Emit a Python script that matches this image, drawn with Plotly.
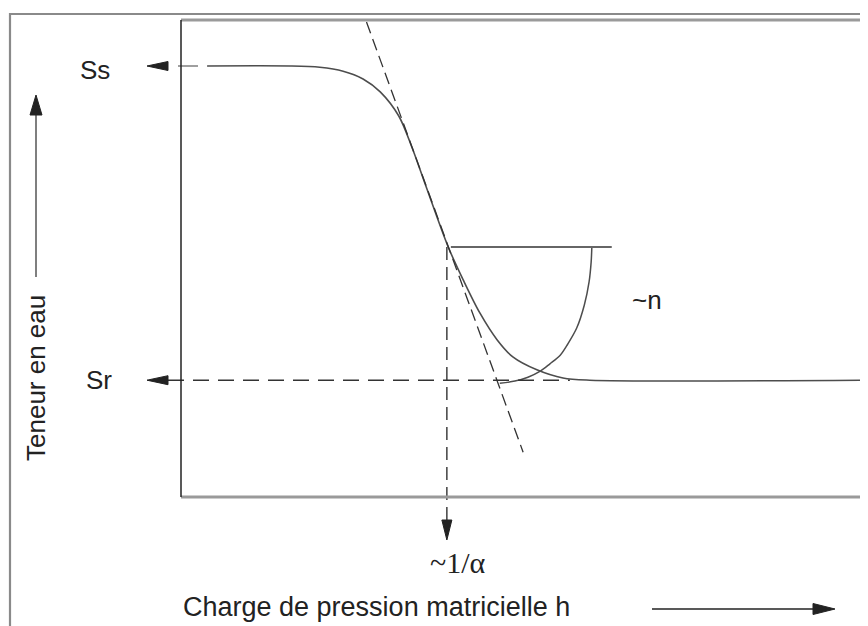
import plotly.graph_objects as go

# ---------------- data ----------------
# water-retention curve (h = pressure head, theta = water content), schematic units
h_curve = [0.38, 1.59, 2.02, 2.36, 2.65, 2.90, 3.17, 3.36, 3.55, 3.89, 4.11, 4.35,
           4.60, 4.83, 5.18, 5.56, 5.95, 9.91]
theta_curve = [1.000, 1.000, 0.997, 0.988, 0.970, 0.940, 0.884, 0.812, 0.728, 0.580,
               0.503, 0.427, 0.365, 0.325, 0.295, 0.276, 0.271, 0.271]

# "~n" shape curve
h_n = [5.98, 5.97, 5.94, 5.87, 5.76, 5.63, 5.52, 5.37, 5.23, 5.05, 4.86, 4.64]
theta_n = [0.580, 0.545, 0.499, 0.445, 0.392, 0.355, 0.329, 0.309, 0.292, 0.278,
           0.269, 0.264]

# tangent at the inflection point
tangent_h = [2.70, 4.98]
tangent_theta = [1.102, 0.104]

theta_s = 1.0      # Ss
theta_r = 0.271    # Sr
h_alpha = 3.87     # ~1/alpha
theta_alpha = 0.580
h_n_bar_end = 6.27
h_sr_dash_end = 5.66

label_ss = "Ss"
label_sr = "Sr"
label_n = "~n"
label_alpha = "~1/α"
label_x = "Charge de pression matricielle h"
label_y = "Teneur en eau"

# ---------------- scale of the canvas ----------------
W, H = 868, 626
PAGE_OFFSET = 8          # default body margin of the html page
PX_PER_H = 68.7
PX_PER_T = 431.0
LEFT_PX, BOTTOM_PX = 181, 497
H_MIN = (PAGE_OFFSET - LEFT_PX) / PX_PER_H
H_MAX = (W + PAGE_OFFSET - LEFT_PX) / PX_PER_H
T_MIN = (BOTTOM_PX - H - PAGE_OFFSET) / PX_PER_T
T_MAX = (BOTTOM_PX - PAGE_OFFSET) / PX_PER_T
T_TOP = (BOTTOM_PX - 20) / PX_PER_T  # top of inner frame


def hx(px):
    """page pixel column -> h"""
    return (px - LEFT_PX) / PX_PER_H


def ty(py):
    """page pixel row -> theta"""
    return (BOTTOM_PX - py) / PX_PER_T


def dh(px):
    return px / PX_PER_H


def dt(px):
    return px / PX_PER_T


def arrowhead(tip_h, tip_t, direction, length=21, width=10):
    if direction == "left":
        xs = [tip_h, tip_h + dh(length), tip_h + dh(length), tip_h]
        ys = [tip_t, tip_t + dt(width / 2), tip_t - dt(width / 2), tip_t]
    elif direction == "right":
        xs = [tip_h, tip_h - dh(length), tip_h - dh(length), tip_h]
        ys = [tip_t, tip_t + dt(width / 2), tip_t - dt(width / 2), tip_t]
    elif direction == "up":
        xs = [tip_h, tip_h - dh(width / 2), tip_h + dh(width / 2), tip_h]
        ys = [tip_t, tip_t - dt(length), tip_t - dt(length), tip_t]
    else:
        xs = [tip_h, tip_h - dh(width / 2), tip_h + dh(width / 2), tip_h]
        ys = [tip_t, tip_t + dt(length), tip_t + dt(length), tip_t]
    return go.Scatter(x=xs, y=ys, mode="lines", fill="toself", fillcolor="#222",
                      line=dict(color="#222", width=1), hoverinfo="skip")


CURVE = "#4d4d4d"
DASH = "#333333"

fig = go.Figure()

# main curve
fig.add_trace(go.Scatter(x=h_curve, y=theta_curve, mode="lines",
                         line=dict(color=CURVE, width=1.6, shape="spline", smoothing=0.9)))
# ~n curve
fig.add_trace(go.Scatter(x=h_n, y=theta_n, mode="lines",
                         line=dict(color=CURVE, width=1.5, shape="spline", smoothing=0.9)))
# horizontal bar at the inflection point
fig.add_trace(go.Scatter(x=[h_alpha + dh(4), h_n_bar_end], y=[theta_alpha, theta_alpha],
                         mode="lines", line=dict(color="#666", width=2)))
# tangent
fig.add_trace(go.Scatter(x=tangent_h, y=tangent_theta, mode="lines",
                         line=dict(color=DASH, width=1.3, dash="12px,6px")))

# arrow tips
arrow_tip_left = hx(147)
v_tip = ty(540)

# vertical dashed line to ~1/alpha
fig.add_trace(go.Scatter(x=[h_alpha, h_alpha], y=[theta_alpha, v_tip + dt(20)], mode="lines",
                         line=dict(color=DASH, width=1.4, dash="13px,7px")))
fig.add_trace(arrowhead(h_alpha, v_tip, "down", 20, 10))

# Sr dashed
fig.add_trace(go.Scatter(x=[arrow_tip_left + dh(21), h_sr_dash_end], y=[theta_r, theta_r],
                         mode="lines", line=dict(color=DASH, width=1.6, dash="16px,9px")))
fig.add_trace(arrowhead(arrow_tip_left, theta_r, "left", 21, 9))

# Ss short dash
fig.add_trace(go.Scatter(x=[hx(178), hx(198)], y=[theta_s, theta_s], mode="lines",
                         line=dict(color="#888", width=1.6)))
fig.add_trace(arrowhead(arrow_tip_left, theta_s, "left", 21, 9))

# y axis arrow
y_arrow_h = hx(36)
y_tip = ty(95)
fig.add_trace(go.Scatter(x=[y_arrow_h, y_arrow_h], y=[ty(277), y_tip - dt(18)],
                         mode="lines", line=dict(color="#555", width=1.5)))
fig.add_trace(arrowhead(y_arrow_h, y_tip, "up", 20, 12))

# x axis arrow
x_arrow_t = ty(609)
x_tip = hx(835)
fig.add_trace(go.Scatter(x=[hx(652), x_tip - dh(18)], y=[x_arrow_t, x_arrow_t],
                         mode="lines", line=dict(color="#222", width=1.6)))
fig.add_trace(arrowhead(x_tip, x_arrow_t, "right", 22, 11))

# frames
shapes = [
    # outer frame (left + top)
    dict(type="path", xref="x", yref="y",
         path=f"M {hx(10)} {T_MIN - 0.1} L {hx(10)} {ty(14)} L {H_MAX + 0.5} {ty(14)}",
         line=dict(color="#8a8a8a", width=2.2)),
    # inner top
    dict(type="line", xref="x", yref="y", x0=0, x1=H_MAX + 0.5, y0=T_TOP, y1=T_TOP,
         line=dict(color="#9a9a9a", width=3)),
    # inner bottom axis
    dict(type="line", xref="x", yref="y", x0=0, x1=H_MAX + 0.5, y0=0, y1=0,
         line=dict(color="#9a9a9a", width=3)),
    # inner left axis
    dict(type="line", xref="x", yref="y", x0=0, x1=0, y0=0, y1=T_TOP,
         line=dict(color="#222", width=1.5)),
]

SANS = "Liberation Sans, Arial, sans-serif"
SERIF = "Liberation Serif, Times New Roman, serif"
ann = [
    dict(x=hx(95), y=ty(70), text=label_ss, showarrow=False,
         font=dict(family=SANS, size=26, color="#222")),
    dict(x=hx(99), y=theta_r, text=label_sr, showarrow=False,
         font=dict(family=SANS, size=26, color="#222")),
    dict(x=hx(647), y=ty(300), text=label_n, showarrow=False,
         font=dict(family=SANS, size=26, color="#222")),
    dict(x=hx(428), y=ty(562), text=label_alpha, showarrow=False,
         xanchor="left", font=dict(family=SERIF, size=30, color="#222")),
    dict(x=hx(181), y=ty(607), text=label_x, showarrow=False,
         xanchor="left", font=dict(family=SANS, size=27, color="#222")),
    dict(x=hx(36), y=ty(378), text=label_y, showarrow=False,
         textangle=-90, font=dict(family=SANS, size=26, color="#222")),
]

fig.update_layout(
    width=W, height=H, autosize=False,
    margin=dict(l=0, r=0, t=0, b=0),
    paper_bgcolor="white", plot_bgcolor="white",
    showlegend=False,
    xaxis=dict(range=[H_MIN, H_MAX], visible=False, fixedrange=True),
    yaxis=dict(range=[T_MIN, T_MAX], visible=False, fixedrange=True),
    shapes=shapes,
    annotations=ann,
)

fig.write_html("out.html")
